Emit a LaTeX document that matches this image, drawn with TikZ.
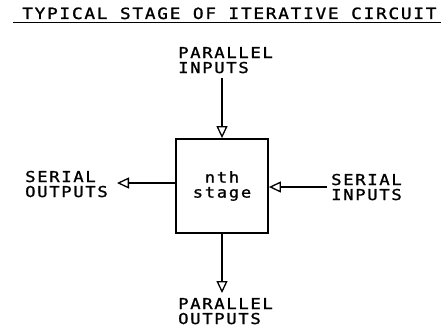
\documentclass[tikz,border=0pt]{standalone}
\usepackage{fontspec}
\newfontfamily\plotfont{DejaVu Sans Mono}[FakeStretch=1.15,LetterSpace=11,FakeBold=1.2]
\usetikzlibrary{arrows.meta, positioning}

\begin{document}
\begin{tikzpicture}[
    x=1pt, y=-1pt,
    txt/.style={inner sep=0pt, align=left, anchor=base west,
                font=\fontsize{15}{15}\selectfont\plotfont},
    stagebox/.style={draw, line width=1.8pt, minimum width=92pt, minimum height=94pt,
                inner sep=0pt, align=center, font=\fontsize{15}{15}\selectfont\plotfont},
    arrow/.style={-{Triangle[open, length=12pt, width=11pt, line width=1.3pt]}, line width=1.5pt}
]
\useasboundingbox[fill=white] (0,0) rectangle (441,329);

% title with underline
\node[txt, font=\fontsize{15.5}{15}\selectfont\plotfont] (title) at (22,19) {TYPICAL STAGE OF ITERATIVE CIRCUIT};
\draw[line width=1.6pt] ([xshift=-9pt, yshift=-3pt]title.south west) -- ([xshift=8pt, yshift=-3pt]title.south east);

% the stage and its four labels
\node[stagebox] (stage) at (222,186) {nth\\stage};
\node[txt] (pin) at (178,73) {PARALLEL\\INPUTS};
\node[txt] (pout) at (178,324) {PARALLEL\\OUTPUTS};
\node[txt] (sin) at (331,200) {SERIAL\\INPUTS};
\node[txt] (sout) at (25,197) {SERIAL\\OUTPUTS};

\coordinate (pinend) at (222,78);
\coordinate (poutend) at (222,293);
\coordinate (sinend) at (327,187);
\coordinate (soutend) at (117,183);

\draw[arrow] (pinend) -- (stage.north |- pinend) -- (stage.north);
\draw[arrow] (stage.south) -- (poutend);
\draw[arrow] (sinend) -- (stage.east |- sinend);
\draw[arrow] (stage.west |- soutend) -- (soutend);
\end{tikzpicture}
\end{document}
